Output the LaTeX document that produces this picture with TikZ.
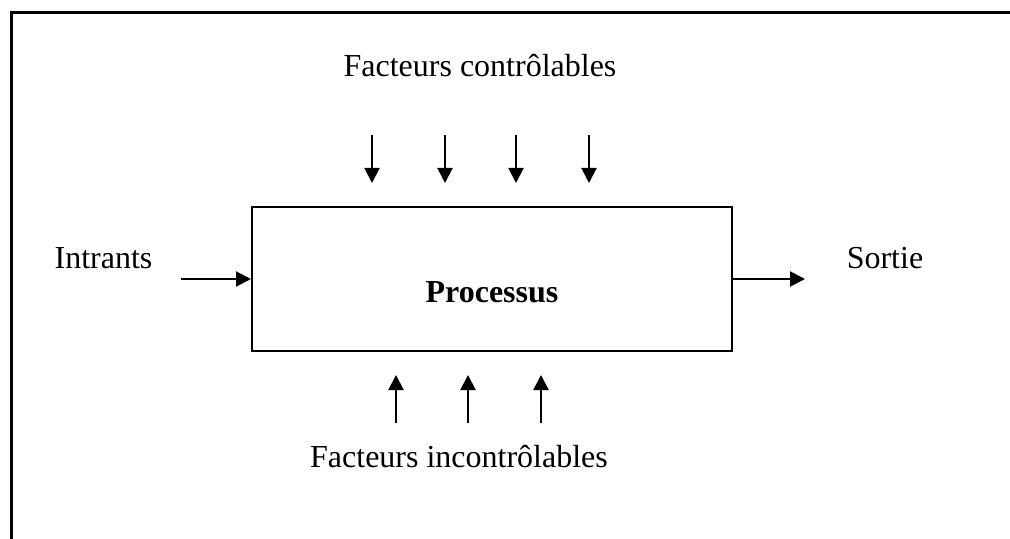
\documentclass[tikz,border=0pt]{standalone}
\usepackage{fontspec}
\setmainfont{Liberation Serif}
\usepackage{tikz}
\usetikzlibrary{arrows.meta, positioning}
\tikzstyle{bloc} = [rectangle, minimum width=240pt, minimum height=72pt, draw=black, line width=1pt]
\tikzstyle{label} = [inner sep=0pt, anchor=base, font=\fontsize{16}{19}\selectfont]
\tikzstyle{arrow} = [line width=1pt, -{Triangle[length=7.5pt, width=7.5pt]}]

\begin{document}
\begin{tikzpicture}[x=0.5pt, y=-0.5pt]
\useasboundingbox (0,0) rectangle (1010,539);

% cadre
\draw [line width=1.5pt] (11,539) -- (11,13) -- (1010,13);

\node (proc) [bloc] at (492,279) {};
\node (titre) [label, font=\fontsize{16}{19}\selectfont\bfseries] at (492,303) {Processus};

\node (ctrl) [label] at (480,77) {Facteurs contrôlables};
\node (inctrl) [label] at (459,467) {Facteurs incontrôlables};
\node (intrants) [label] at (103.5,269) {Intrants};
\node (sortie) [label] at (885,269) {Sortie};

% facteurs controlables
\coordinate (c1) at (372,135);
\coordinate (c2) at (445,135);
\coordinate (c3) at (516,135);
\coordinate (c4) at (589,135);
\coordinate (d1) at (372,183);
\coordinate (d2) at (445,183);
\coordinate (d3) at (516,183);
\coordinate (d4) at (589,183);
\draw [arrow] (c1) -- (d1);
\draw [arrow] (c2) -- (d2);
\draw [arrow] (c3) -- (d3);
\draw [arrow] (c4) -- (d4);

% facteurs incontrolables
\coordinate (u1) at (396,423);
\coordinate (u2) at (468,423);
\coordinate (u3) at (541,423);
\coordinate (v1) at (396,375);
\coordinate (v2) at (468,375);
\coordinate (v3) at (541,375);
\draw [arrow] (u1) -- (v1);
\draw [arrow] (u2) -- (v2);
\draw [arrow] (u3) -- (v3);

% entree et sortie
\coordinate (e) at (181,279);
\coordinate (s) at (805,279);
\draw [arrow] (e) -- (proc.west);
\draw [arrow] (proc.east) -- (s);

\end{tikzpicture}
\end{document}
